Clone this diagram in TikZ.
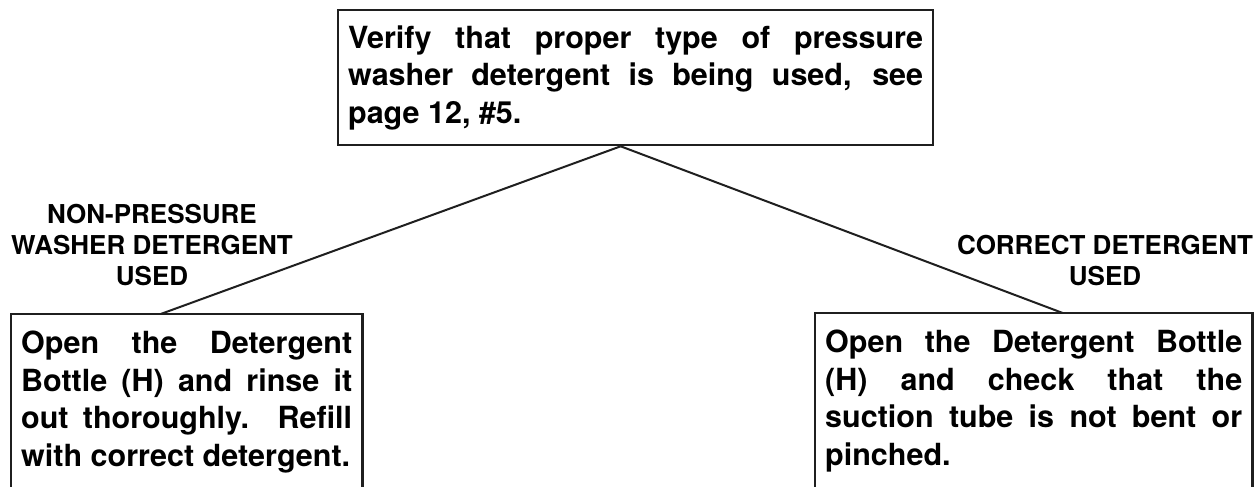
\documentclass[tikz,border=0pt]{standalone}
\usepackage{fontspec}
\setmainfont{TeX Gyre Heros}
\usetikzlibrary{positioning}
\tolerance=10000
\hbadness=10000
\hyphenpenalty=10000
\tikzset{
  stepbox/.style={
    align=justify,
    anchor=north west,
    font=\bfseries\fontsize{30.5}{37.5}\selectfont,
    inner xsep=10pt,
    inner ysep=17pt
  },
  boxline/.style={
    draw=black!88,
    line width=2.3pt
  },
  branchLabel/.style={
    align=center,
    font=\bfseries\fontsize{26}{31}\selectfont,
    inner sep=0pt
  },
  branchLine/.style={
    draw=black!88,
    line width=2pt
  }
}

\begin{document}
\begin{tikzpicture}[x=1pt, y=-1pt]
  \useasboundingbox (0,0) rectangle (1255,487);

  \node[stepbox, boxline, text width=575pt, inner ysep=15pt, minimum height=135pt] (verify) at (337,9)
    {Verify that proper type of pressure\linebreak washer detergent is being used, see\linebreak page 12, \#5.};
  \node[stepbox, text width=331pt] (rinse) at (11,314)
    {\parfillskip=0pt Open the Detergent\linebreak Bottle (H) and rinse it\linebreak out thoroughly.\ \ Refill\linebreak with correct detergent.};
  \node[stepbox, text width=417pt] (checktube) at (815,313)
    {Open the Detergent Bottle\linebreak (H) and check that the\linebreak suction tube is not bent or\linebreak pinched.};

  % open boxes, cut by the page bottom
  \draw[boxline] ([yshift=-80pt]rinse.south west) |- (rinse.north east) -- ([yshift=-80pt]rinse.south east);
  \draw[boxline] ([yshift=-80pt]checktube.south west) |- (checktube.north east) -- ([yshift=-80pt]checktube.south east);

  \node[branchLabel] (nonlabel) at (152,245) {NON-PRESSURE\\WASHER DETERGENT\\USED};
  \node[branchLabel] (oklabel) at (1105,261) {CORRECT DETERGENT\\USED};

  \coordinate (apex) at ([xshift=-15pt]verify.south);
  \draw[branchLine] (apex) -- ([xshift=-26pt]rinse.north);
  \draw[branchLine] (apex) -- ([xshift=29pt]checktube.north);
\end{tikzpicture}
\end{document}
